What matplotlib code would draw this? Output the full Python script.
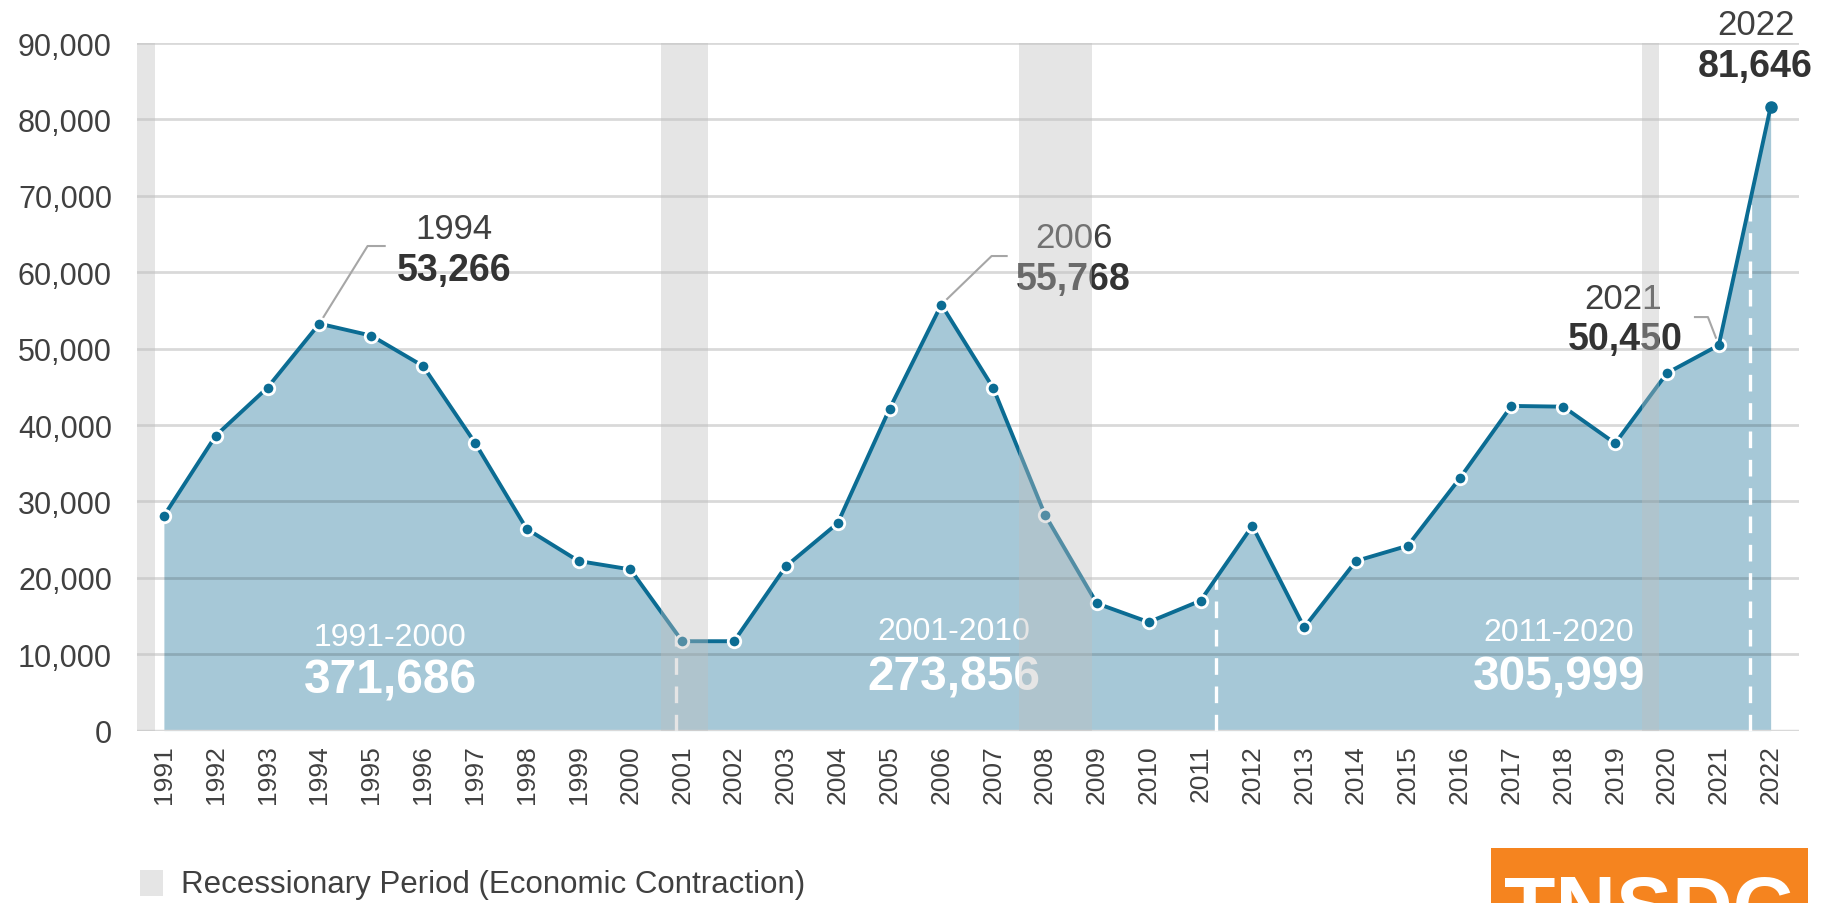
import matplotlib.pyplot as plt
import numpy as np
from matplotlib.patches import Rectangle

plt.rcParams['font.family'] = ['Liberation Sans', 'DejaVu Sans']

# data
years = list(range(1991, 2023))
values = [28100, 38600, 44900, 53266, 51700, 47720, 37700, 26400, 22200, 21100,
          11700, 11700, 21500, 27150, 42100, 55768, 44850, 28238, 16650, 14200,
          17000, 26800, 13500, 22200, 24200, 33000, 42500, 42400, 37600, 46799,
          50450, 81646]
recessions = [(1990.48, 1990.82), (2000.6, 2001.5), (2007.49, 2008.9), (2019.52, 2019.84)]
decades = [(1991, 2000), (2001, 2010), (2011, 2020)]
dividers = [2000.89, 2011.29, 2021.6]
highlights = [1994, 2006, 2021, 2022]

line_c = '#0b6c93'
fill_c = '#a6c8d7'
txt_c = '#404040'
num_c = '#333333'

fig = plt.figure(figsize=(18.21, 9.04), dpi=100)
ax = fig.add_axes([0.0752, 0.1907, 0.9128, 0.7606])

x = np.array(years)
y = np.array(values)

ax.fill_between(x, 0, y, color=fill_c, zorder=1, lw=0)
for yy in range(10000, 90001, 10000):
    ax.axhline(yy, color='black', alpha=0.15, lw=2, zorder=2)
ax.axhline(0, color='#d9d9d9', lw=2.5, zorder=2)

# decade dividers
for d in dividers:
    ax.plot([d, d], [0, np.interp(d, x, y)], color='white', lw=2.4,
            linestyle=(0, (5, 3.5)), zorder=2.7)

ax.plot(x[:-1], y[:-1], color=line_c, lw=2.8, marker='o', markersize=9,
        markerfacecolor=line_c, markeredgecolor='white', markeredgewidth=2, zorder=3)
ax.plot(x[-2:], y[-2:], color=line_c, lw=2.8, zorder=3)
ax.plot(x[-1], y[-1], 'o', color=line_c, markersize=8, zorder=3.1)

# recession shading drawn on top
for a, b in recessions:
    ax.axvspan(a, b, ymin=0, ymax=1, color='#bfbfbf', alpha=0.4, lw=0, zorder=5)

# callouts: label position and leader path
callouts = {
    1994: ((1996.6, 65700), (1996.6, 60300), [(1994.93, 63430), (1995.26, 63430)]),
    2006: ((2008.55, 64500), (2008.55, 59110), [(2006.97, 62120), (2007.26, 62120)]),
    2021: ((2019.15, 56600), (2019.19, 51260), [(2020.79, 54130), (2020.54, 54130)]),
    2022: ((2021.71, 92400), (2021.71, 86990), []),
}
for yr in highlights:
    v = values[years.index(yr)]
    p1, p2, path = callouts[yr]
    ax.text(p1[0], p1[1], str(yr), fontsize=25, color=txt_c, ha='center', va='center',
            clip_on=False, zorder=4)
    ax.text(p2[0], p2[1], f'{v:,}', fontsize=27, fontweight='bold', color=num_c,
            ha='center', va='center', clip_on=False, zorder=4)
    if path:
        px = [yr] + [p[0] for p in path]
        py = [v] + [p[1] for p in path]
        ax.plot(px, py, color='#a6a6a6', lw=1.5, zorder=2.9)

# decade totals
decade_pos = [(1995.37, 12250, 6620), (2006.24, 13040, 7020), (2017.92, 12900, 7020)]
for (a, b), (cx, y1, y2) in zip(decades, decade_pos):
    total = sum(v for yr, v in zip(years, values) if a <= yr <= b)
    ax.text(cx, y1, f'{a}-{b}', fontsize=23, color='white', ha='center', va='center', zorder=4)
    ax.text(cx, y2, f'{total:,}', fontsize=34.5, fontweight='bold', color='white',
            ha='center', va='center', zorder=4)

ax.set_xlim(1990.48, 2022.55)
ax.set_ylim(0, 90000)
ax.set_xticks(years)
ax.set_xticklabels([str(v) for v in years], rotation=90, fontsize=19, color=txt_c)
ax.set_yticks(range(0, 90001, 10000))
ax.set_yticklabels([f'{v:,}' for v in range(0, 90001, 10000)], fontsize=22, color=txt_c)
ax.tick_params(axis='both', length=0)
ax.tick_params(axis='y', pad=18)
ax.tick_params(axis='x', pad=10)
for s in ax.spines.values():
    s.set_visible(False)

# legend
fig.add_artist(Rectangle((0.0769, 0.0077), 0.0126, 0.0290, transform=fig.transFigure,
                         color='#e5e5e5', lw=0))
fig.text(0.0995, 0.021, 'Recessionary Period (Economic Contraction)', fontsize=22.5,
         color=txt_c, va='center', ha='left')

# logo, cut off at the bottom edge
fig.add_artist(Rectangle((0.8188, -0.05), 0.1741, 0.1108, transform=fig.transFigure,
                         color='#f5841f', lw=0))
fig.text(0.9055, -0.053, 'TNSDC', fontsize=60.5, fontweight='bold', color='white',
         ha='center', va='bottom')

fig.savefig('out.png', dpi=100)
